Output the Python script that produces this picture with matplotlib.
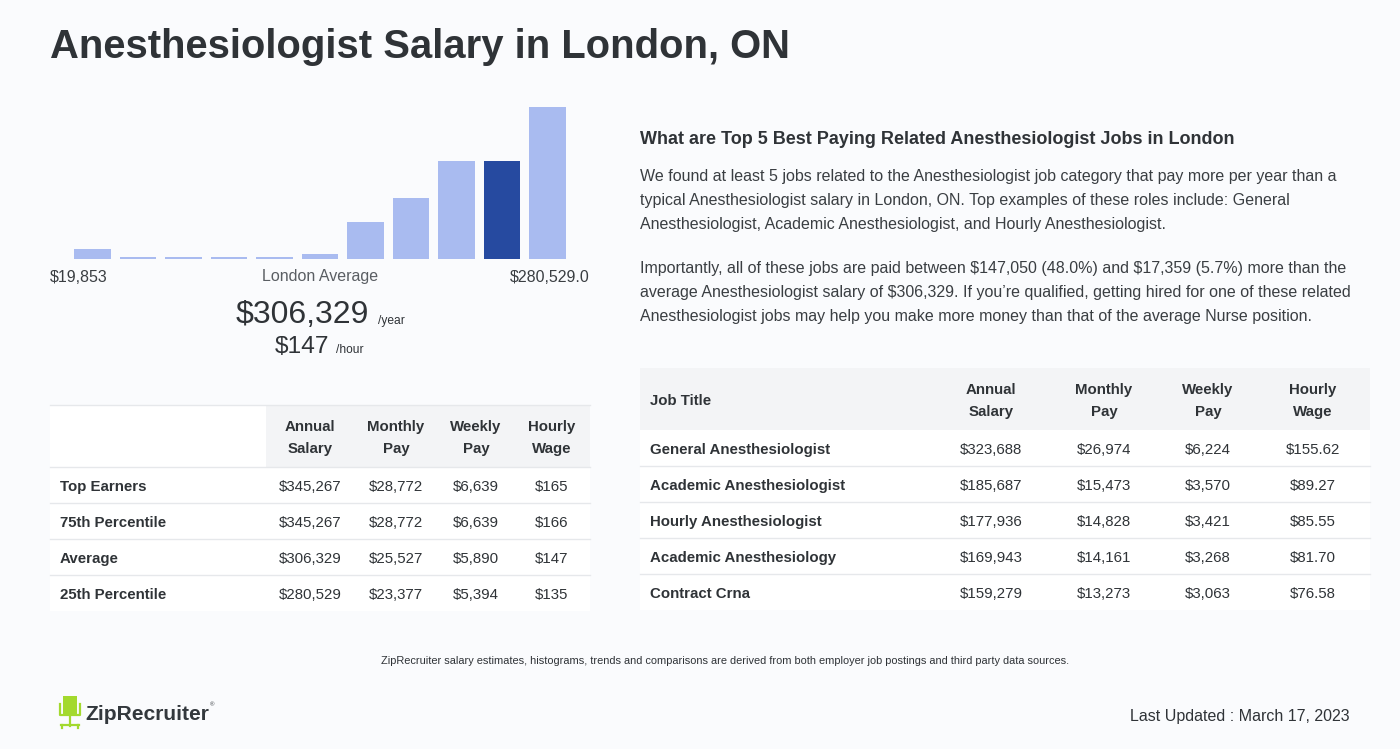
import matplotlib
matplotlib.use("Agg")
import matplotlib.pyplot as plt
from matplotlib.patches import Rectangle

plt.rcParams['font.family'] = ['Liberation Sans', 'DejaVu Sans']
plt.rcParams['text.parse_math'] = False

# ---------------- data ----------------
title = "Anesthesiologist Salary in London, ON"
hist_heights = [10, 2.3, 2.3, 2.3, 2.3, 5, 37, 61, 98, 98, 152]
hist_highlight = 9
hist_min_label = "$19,853"
hist_mid_label = "London Average"
hist_max_label = "$280,529.0"
avg_year = "$306,329"
avg_hour = "$147"

left_cols = ["Annual\nSalary", "Monthly\nPay", "Weekly\nPay", "Hourly\nWage"]
left_rows = ["Top Earners", "75th Percentile", "Average", "25th Percentile"]
left_annual = ["$345,267", "$345,267", "$306,329", "$280,529"]
left_monthly = ["$28,772", "$28,772", "$25,527", "$23,377"]
left_weekly = ["$6,639", "$6,639", "$5,890", "$5,394"]
left_hourly = ["$165", "$166", "$147", "$135"]

right_heading = "What are Top 5 Best Paying Related Anesthesiologist Jobs in London"
para1 = ["We found at least 5 jobs related to the Anesthesiologist job category that pay more per year than a",
         "typical Anesthesiologist salary in London, ON. Top examples of these roles include: General",
         "Anesthesiologist, Academic Anesthesiologist, and Hourly Anesthesiologist."]
para2 = ["Importantly, all of these jobs are paid between $147,050 (48.0%) and $17,359 (5.7%) more than the",
         "average Anesthesiologist salary of $306,329. If you\u2019re qualified, getting hired for one of these related",
         "Anesthesiologist jobs may help you make more money than that of the average Nurse position."]

right_cols = ["Job Title", "Annual\nSalary", "Monthly\nPay", "Weekly\nPay", "Hourly\nWage"]
job_titles = ["General Anesthesiologist", "Academic Anesthesiologist", "Hourly Anesthesiologist",
              "Academic Anesthesiology", "Contract Crna"]
job_annual = ["$323,688", "$185,687", "$177,936", "$169,943", "$159,279"]
job_monthly = ["$26,974", "$15,473", "$14,828", "$14,161", "$13,273"]
job_weekly = ["$6,224", "$3,570", "$3,421", "$3,268", "$3,063"]
job_hourly = ["$155.62", "$89.27", "$85.55", "$81.70", "$76.58"]

footnote = ("ZipRecruiter salary estimates, histograms, trends and comparisons are derived from both "
            "employer job postings and third party data sources.")
brand = "ZipRecruiter"
updated = "Last Updated : March 17, 2023"

# ---------------- style ----------------
W, H = 1400, 749
BG = "#fafbfd"
TXT = "#2f3337"
LIGHT = "#a9bbf0"
DARK = "#264aa0"
HEAD_BG = "#f3f4f6"
LINE = "#e6e8eb"
GREEN = "#a3d92e"

def px(p):
    return p * 72 / 100.0

fig = plt.figure(figsize=(W / 100, H / 100), dpi=100, facecolor=BG)
ax = fig.add_axes([0, 0, 1, 1])
ax.set_xlim(0, W)
ax.set_ylim(H, 0)
ax.axis("off")
ax.set_facecolor(BG)

# title
ax.text(50, 47, title, fontsize=px(40), fontweight="bold", color=TXT, va="center", ha="left")

# ---------------- histogram ----------------
base_y, top_y = 259, 100
hx0, hx1 = 50, 590
hax = fig.add_axes([hx0 / W, (H - base_y) / H, (hx1 - hx0) / W, (base_y - top_y) / H])
hax.set_facecolor("none")
n = len(hist_heights)
colors = [DARK if i == hist_highlight else LIGHT for i in range(n)]
hax.bar(range(n), hist_heights, width=0.81, color=colors)
hax.set_xlim(-0.934, n - 1 + 0.934)
hax.set_ylim(0, base_y - top_y)
hax.axis("off")

ax.text(50, 277, hist_min_label, fontsize=px(16), color="#3a3e42", ha="left", va="center")
ax.text(320, 277, hist_mid_label, fontsize=px(16), color="#5a5e63", ha="center", va="center")
ax.text(590, 277, hist_max_label, fontsize=px(16), color="#3a3e42", ha="right", va="center")

ax.text(369, 315, avg_year, fontsize=px(32), color=TXT, ha="right", va="center")
ax.text(378, 321, "/year", fontsize=px(12), color=TXT, ha="left", va="center")
ax.text(329, 347, avg_hour, fontsize=px(24.5), color=TXT, ha="right", va="center")
ax.text(336, 350, "/hour", fontsize=px(12), color=TXT, ha="left", va="center")

# ---------------- left table ----------------
lx0, lx1 = 50, 590
ly_head0, ly_head1 = 405, 467
row_h = 36
dy = 2
ax.add_patch(Rectangle((lx0, ly_head0), lx1 - lx0, ly_head1 - ly_head0, facecolor="white", edgecolor="none"))
ax.add_patch(Rectangle((266, ly_head0), lx1 - 266, ly_head1 - ly_head0, facecolor=HEAD_BG, edgecolor="none"))
ax.plot([lx0, lx1], [ly_head0, ly_head0], color=LINE, lw=1)
lcol_x = [310, 396, 476, 552]
for cx, lab in zip(lcol_x, left_cols):
    ax.text(cx, (ly_head0 + ly_head1) / 2 + dy, lab, fontsize=px(15), fontweight="bold", color=TXT,
            ha="center", va="center", linespacing=1.7)
left_vals = [left_annual, left_monthly, left_weekly, left_hourly]
for i, rl in enumerate(left_rows):
    y0 = ly_head1 + i * row_h
    ax.add_patch(Rectangle((lx0, y0), lx1 - lx0, row_h, facecolor="white", edgecolor="none"))
    ax.plot([lx0, lx1], [y0, y0], color=LINE, lw=1)
    yc = y0 + row_h / 2 + dy
    ax.text(60, yc, rl, fontsize=px(15), fontweight="bold", color=TXT, ha="left", va="center")
    for cx, col in zip(lcol_x, left_vals):
        ax.text(cx, yc, col[i], fontsize=px(15), color=TXT, ha="center", va="center")

# ---------------- right text ----------------
ax.text(640, 139, right_heading, fontsize=px(18), fontweight="bold", color=TXT, ha="left", va="center")
for k, line in enumerate(para1):
    ax.text(640, 177 + 24 * k, line, fontsize=px(16), color="#3a3e42", ha="left", va="center")
for k, line in enumerate(para2):
    ax.text(640, 269 + 24 * k, line, fontsize=px(16), color="#3a3e42", ha="left", va="center")

# ---------------- right table ----------------
rx0, rx1 = 640, 1370
ry_head0, ry_head1 = 368, 430
ax.add_patch(Rectangle((rx0, ry_head0), rx1 - rx0, ry_head1 - ry_head0, facecolor=HEAD_BG, edgecolor="none"))
rcol_x = [650, 991, 1104, 1208, 1313]
for j, (cx, lab) in enumerate(zip(rcol_x, right_cols)):
    ax.text(cx, (ry_head0 + ry_head1) / 2 + dy, lab, fontsize=px(15), fontweight="bold", color=TXT,
            ha="left" if j == 0 else "center", va="center", linespacing=1.7)
right_vals = [job_annual, job_monthly, job_weekly, job_hourly]
for i, jt in enumerate(job_titles):
    y0 = ry_head1 + i * row_h
    ax.add_patch(Rectangle((rx0, y0), rx1 - rx0, row_h, facecolor="white", edgecolor="none"))
    if i > 0:
        ax.plot([rx0, rx1], [y0, y0], color=LINE, lw=1)
    yc = y0 + row_h / 2 + dy
    ax.text(650, yc, jt, fontsize=px(15), fontweight="bold", color=TXT, ha="left", va="center")
    for cx, col in zip(rcol_x[1:], right_vals):
        ax.text(cx, yc, col[i], fontsize=px(15), color=TXT, ha="center", va="center")

# ---------------- footer ----------------
ax.text(725, 661, footnote, fontsize=px(11), color=TXT, ha="center", va="center")

# logo chair
ax.add_patch(Rectangle((63, 696), 14, 18, facecolor=GREEN, edgecolor="none"))
ax.plot([60, 60, 80, 80], [704, 715, 715, 704], color=GREEN, lw=1.6)
ax.plot([70, 70], [715, 726], color=GREEN, lw=1.6)
ax.plot([61, 79], [725, 725], color=GREEN, lw=1.6)
ax.plot([62, 62], [725, 728], color=GREEN, lw=1.6)
ax.plot([78, 78], [725, 728], color=GREEN, lw=1.6)
ax.text(85, 714, brand, fontsize=px(21), fontweight="bold", color="#33383d", ha="left", va="center")
ax.text(209.5, 705, "\u00ae", fontsize=px(6), color="#33383d", ha="left", va="center")

ax.text(1350, 716, updated, fontsize=px(16), color=TXT, ha="right", va="center")

fig.savefig("out.png", dpi=100, facecolor=BG)
